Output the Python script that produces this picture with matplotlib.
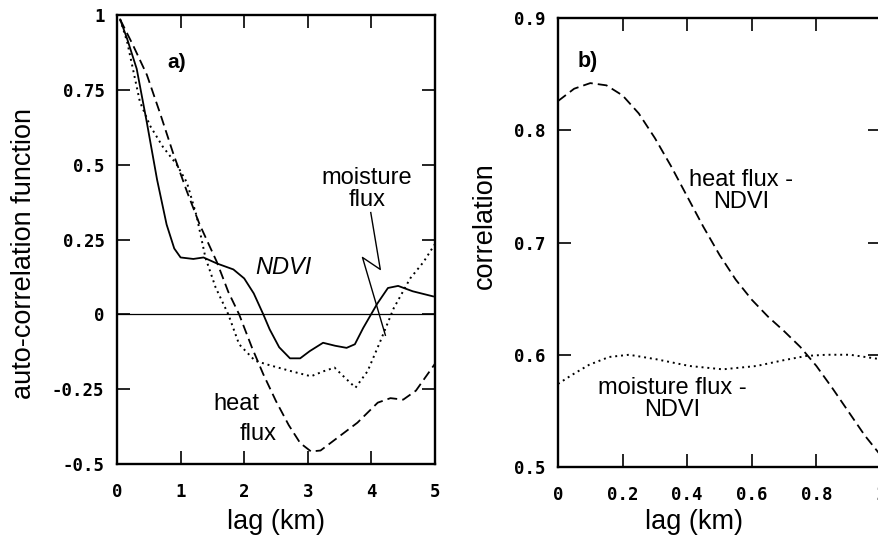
import matplotlib
matplotlib.use("Agg")
import matplotlib.pyplot as plt
from matplotlib.ticker import FixedLocator, FixedFormatter

# ---------------- data ----------------
# panel a: auto-correlation functions vs lag (km)
ndvi_x = [0.05, 0.16, 0.31, 0.47, 0.63, 0.78, 0.90, 1.00, 1.20, 1.36, 1.57, 1.83, 2.00,
          2.15, 2.30, 2.40, 2.55, 2.72, 2.88, 3.03, 3.24, 3.43, 3.61, 3.74, 3.87, 4.09,
          4.26, 4.42, 4.65, 4.97]
ndvi_y = [0.985, 0.92, 0.82, 0.64, 0.45, 0.30, 0.22, 0.19, 0.185, 0.19, 0.17, 0.15, 0.12,
          0.07, 0.0, -0.05, -0.11, -0.147, -0.147, -0.123, -0.095, -0.105, -0.112, -0.10,
          -0.046, 0.035, 0.088, 0.095, 0.077, 0.06]

heat_x = [0.05, 0.25, 0.47, 0.68, 0.88, 1.10, 1.30, 1.57, 1.75, 1.92, 2.12, 2.30, 2.50,
          2.70, 2.88, 3.05, 3.20, 3.45, 3.78, 4.10, 4.30, 4.50, 4.70, 4.85, 5.00]
heat_y = [0.985, 0.90, 0.80, 0.67, 0.54, 0.41, 0.30, 0.175, 0.075, 0.0, -0.11, -0.20,
          -0.29, -0.37, -0.43, -0.458, -0.455, -0.415, -0.362, -0.295, -0.28, -0.285,
          -0.255, -0.21, -0.165]

moist_x = [0.05, 0.16, 0.25, 0.36, 0.52, 0.72, 0.94, 1.10, 1.25, 1.39, 1.55, 1.75, 1.92,
           2.17, 2.40, 2.74, 3.05, 3.25, 3.42, 3.60, 3.75, 3.94, 4.14, 4.35, 4.61, 4.82,
           5.00]
moist_y = [0.985, 0.91, 0.82, 0.71, 0.63, 0.56, 0.50, 0.44, 0.33, 0.19, 0.09, 0.0, -0.10,
           -0.155, -0.17, -0.19, -0.207, -0.19, -0.178, -0.215, -0.245, -0.19, -0.09,
           0.02, 0.12, 0.175, 0.235]

# panel b: cross-correlations vs lag (km)
hn_x = [0.0, 0.05, 0.10, 0.15, 0.20, 0.25, 0.30, 0.35, 0.40, 0.45, 0.50, 0.55, 0.60,
        0.65, 0.70, 0.75, 0.80, 0.85, 0.90, 0.95, 1.00]
hn_y = [0.826, 0.837, 0.842, 0.840, 0.831, 0.815, 0.793, 0.768, 0.741, 0.714, 0.689,
        0.667, 0.649, 0.634, 0.621, 0.607, 0.590, 0.570, 0.549, 0.528, 0.510]

mn_x = [0.0, 0.043, 0.096, 0.158, 0.22, 0.304, 0.407, 0.51, 0.615, 0.696, 0.77, 0.832,
        0.904, 0.975, 1.0]
mn_y = [0.574, 0.582, 0.591, 0.598, 0.600, 0.596, 0.590, 0.587, 0.590, 0.595, 0.599,
        0.600, 0.600, 0.597, 0.596]

# ticks
a_xticks = [0, 1, 2, 3, 4, 5]
a_xlabels = ["0", "1", "2", "3", "4", "5"]
a_yticks = [1, 0.75, 0.5, 0.25, 0, -0.25, -0.5]
a_ylabels = ["1", "0.75", "0.5", "0.25", "0", "-0.25", "-0.5"]
b_xticks = [0, 0.2, 0.4, 0.6, 0.8, 1.0]
b_xlabels = ["0", "0.2", "0.4", "0.6", "0.8", "1"]
b_yticks = [0.9, 0.8, 0.7, 0.6, 0.5]
b_ylabels = ["0.9", "0.8", "0.7", "0.6", "0.5"]

# leader line for "moisture flux" label
leader_x = [3.99, 4.14, 3.86, 4.22]
leader_y = [0.34, 0.15, 0.19, -0.07]

# ---------------- styling ----------------
TXT = "Liberation Sans"
TICKFONT = dict(family="DejaVu Sans Mono", weight="bold", size=12.5)
LBL = 19.5
ANN = 17
DASH = (0, (5.5, 2.8))
DOT = (0, (1, 2.0))

fig = plt.figure(figsize=(8.79, 5.49), dpi=100)
axa = fig.add_axes([117 / 879, 1 - 464 / 549, 318 / 879, 449 / 549])
axb = fig.add_axes([558 / 879, 1 - 467 / 549, 323 / 879, 449 / 549])


def style(ax, xt, xl, yt, yl, xlim, ylim):
    ax.set_xlim(*xlim)
    ax.set_ylim(*ylim)
    ax.xaxis.set_major_locator(FixedLocator(xt))
    ax.xaxis.set_major_formatter(FixedFormatter(xl))
    ax.yaxis.set_major_locator(FixedLocator(yt))
    ax.yaxis.set_major_formatter(FixedFormatter(yl))
    for s in ax.spines.values():
        s.set_linewidth(1.7)
    ax.tick_params(axis="both", which="major", direction="in", length=9.5, width=1.2,
                   top=True, right=True)
    ax.tick_params(axis="x", pad=14)
    ax.tick_params(axis="y", pad=9)
    for lab in ax.get_xticklabels() + ax.get_yticklabels():
        lab.set_fontfamily(TICKFONT["family"])
        lab.set_fontweight(TICKFONT["weight"])
        lab.set_fontsize(TICKFONT["size"])


style(axa, a_xticks, a_xlabels, a_yticks, a_ylabels, (0, 5), (-0.5, 1))
style(axb, b_xticks, b_xlabels, b_yticks, b_ylabels, (0, 1), (0.5, 0.9))

# panel a curves
axa.axhline(0, color="black", lw=0.9)
axa.plot(ndvi_x, ndvi_y, color="black", lw=1.3, linestyle="-")
axa.plot(heat_x, heat_y, color="black", lw=1.3, linestyle=DASH)
axa.plot(moist_x, moist_y, color="black", lw=1.4, linestyle=DOT)
axa.plot(leader_x, leader_y, color="black", lw=1.0)

axa.text(0.79, 0.842, "a)", fontfamily=TXT, fontweight="bold", fontsize=15,
         ha="left", va="center")
axa.text(2.62, 0.158, "NDVI", fontfamily=TXT, fontstyle="italic", fontsize=ANN,
         ha="center", va="center")
axa.text(3.93, 0.42, "moisture\nflux", fontfamily=TXT, fontsize=ANN, ha="center",
         va="center", linespacing=1.0)
axa.text(1.87, -0.30, "heat", fontfamily=TXT, fontsize=ANN, ha="center", va="center")
axa.text(2.22, -0.40, "flux", fontfamily=TXT, fontsize=ANN, ha="center", va="center")

axa.set_xlabel("lag (km)", fontfamily=TXT, fontsize=LBL, va="center")
axa.xaxis.set_label_coords(0.5, -0.129)
axa.set_ylabel("auto-correlation function", fontfamily=TXT, fontsize=LBL, va="center",
               ha="center")
axa.yaxis.set_label_coords(-0.292, 0.469)

# panel b curves
axb.plot(hn_x, hn_y, color="black", lw=1.3, linestyle=DASH)
axb.plot(mn_x, mn_y, color="black", lw=1.4, linestyle=DOT)

axb.text(0.06, 0.861, "b)", fontfamily=TXT, fontweight="bold", fontsize=15.5,
         ha="left", va="center")
axb.text(0.567, 0.746, "heat flux -\nNDVI", fontfamily=TXT, fontsize=ANN, ha="center",
         va="center", linespacing=1.0)
axb.text(0.355, 0.561, "moisture flux -\nNDVI", fontfamily=TXT, fontsize=ANN,
         ha="center", va="center", linespacing=1.0)

axb.set_xlabel("lag (km)", fontfamily=TXT, fontsize=LBL, va="center")
axb.xaxis.set_label_coords(0.42, -0.1225)
axb.set_ylabel("correlation", fontfamily=TXT, fontsize=LBL, va="center", ha="center")
axb.yaxis.set_label_coords(-0.226, 0.537)

fig.savefig("out.png", dpi=100)
